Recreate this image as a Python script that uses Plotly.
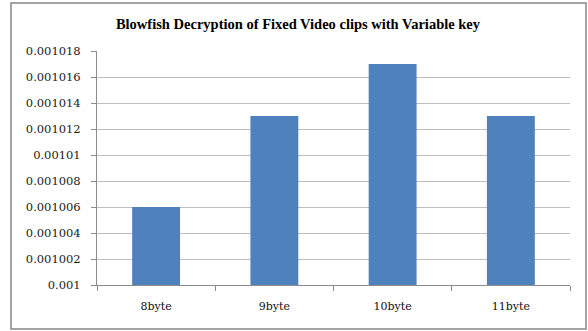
import plotly.graph_objects as go

categories = ["8byte", "9byte", "10byte", "11byte"]
values = [0.001006, 0.001013, 0.001017, 0.001013]
y_tickvals = [0.001, 0.001002, 0.001004, 0.001006, 0.001008, 0.00101,
              0.001012, 0.001014, 0.001016, 0.001018]
y_ticktext = ["0.001", "0.001002", "0.001004", "0.001006", "0.001008", "0.00101",
              "0.001012", "0.001014", "0.001016", "0.001018"]
title = "Blowfish Decryption of Fixed Video clips with Variable key"

fig = go.Figure()
fig.add_trace(go.Bar(x=categories, y=values, marker=dict(color="#4F81BD", line=dict(width=0)),
                     width=0.405))

W, H = 588, 331
l, r, t, b = 97, 18, 51, 46
pw, ph = W - l - r, H - t - b

def px_x(x):
    return (x - l) / pw

def px_y(y):
    return (H - b - y) / ph

fig.update_layout(
    width=W, height=H,
    margin=dict(l=l, r=r, t=t, b=b),
    paper_bgcolor="white", plot_bgcolor="white",
    showlegend=False,
    title=dict(text="<b>" + title + "</b>", x=298 / W, xanchor="center", y=1 - 24 / H, yanchor="middle",
               font=dict(family="Liberation Serif", size=14.5, color="black")),
    font=dict(family="DejaVu Serif", size=12, color="#1a1a1a"),
    xaxis=dict(showline=True, linecolor="#8c8c8c", linewidth=1, ticks="outside",
               tickson="boundaries", ticklen=5, tickcolor="#8c8c8c",
               ticklabelstandoff=11, tickfont=dict(family="DejaVu Serif", size=11, color="#111111"),
               showgrid=False),
    yaxis=dict(range=[0.001, 0.001018], tickvals=y_tickvals, ticktext=y_ticktext,
               showline=True, linecolor="#8c8c8c", linewidth=1, ticks="outside",
               ticklen=5, tickcolor="#8c8c8c", ticklabelstandoff=8,
               tickfont=dict(family="DejaVu Serif", size=11.5, color="#1a1a1a"),
               showgrid=True, gridcolor="#bfbfbf", gridwidth=1, zeroline=False),
    shapes=[dict(type="rect", xref="paper", yref="paper",
                 x0=px_x(11), x1=px_x(586), y0=px_y(329), y1=px_y(3),
                 line=dict(color="#868686", width=1.5), fillcolor="rgba(0,0,0,0)", layer="below")],
)

fig.write_html("out.html")
